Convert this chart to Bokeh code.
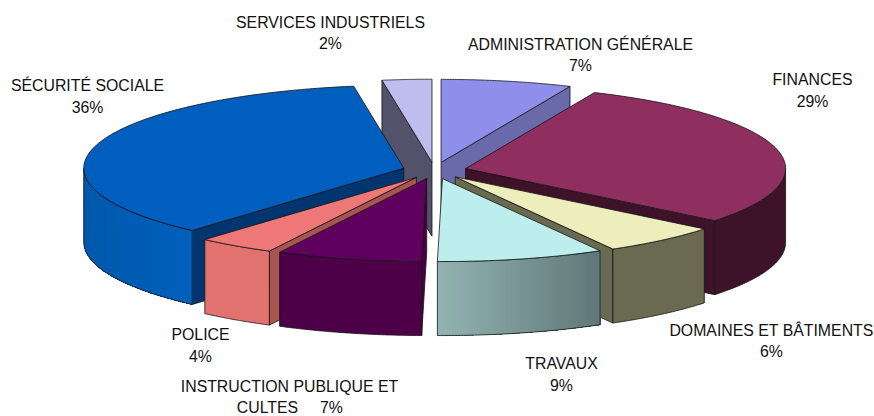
import numpy as np
from bokeh.plotting import figure
from bokeh.models import Range1d
from bokeh.core.properties import value
from bokeh.embed import file_html
from bokeh.resources import INLINE

# --- data (clockwise from 12 o'clock) ---
categories = ["ADMINISTRATION GÉNÉRALE", "FINANCES", "DOMAINES ET BÂTIMENTS", "TRAVAUX",
              "INSTRUCTION PUBLIQUE ET CULTES", "POLICE", "SÉCURITÉ SOCIALE", "SERVICES INDUSTRIELS"]
shares = [6.6, 29.2, 6.0, 8.45, 7.35, 3.9, 36.0, 2.5]
percent_labels = ["7%", "29%", "6%", "9%", "7%", "4%", "36%", "2%"]

# --- styles ---
top_colors = ["#8f8feb", "#8e2f5f", "#eeeebd", "#bdeeee", "#5f005f", "#ee7777", "#005fbe", "#bdbdee"]
face_colors = ["#6a6aaa", "#3e1228", "#6a6a50", "#5f7677", "#4a0046", "#a85552", "#003570", "#52526a"]
wall_left = ["#6a6aaa", "#3e1228", "#6a6a50", "#93b3b1", "#4d0048", "#e27270", "#0059ac", "#52526a"]
wall_right = ["#6a6aaa", "#3e1228", "#6a6a50", "#5f7677", "#4d0048", "#e27270", "#0060bc", "#52526a"]
paint_order = [7, 0, 6, 1, 5, 2, 4, 3]
EDGE = "#151515"
FONT = "Liberation Sans"
SIZE = "15.85px"

# --- geometry ---
CX, CY, RX, RY, DEPTH, EXPLODE = 434.0, 170.0, 320.0, 83.0, 74.0, 0.1


def pt(theta, ox, oy, drop=0.0, r=1.0):
    return ox + r * RX * np.sin(theta), oy - r * RY * np.cos(theta) + drop


def hexmix(a, b, t):
    ca = [int(a[i:i + 2], 16) for i in (1, 3, 5)]
    cb = [int(b[i:i + 2], 16) for i in (1, 3, 5)]
    return "#%02x%02x%02x" % tuple(int(round(x + (y - x) * t)) for x, y in zip(ca, cb))


p = figure(width=874, height=416, x_range=Range1d(0, 874), y_range=Range1d(416, 0),
           toolbar_location=None, output_backend="svg", min_border=0,
           outline_line_color=None, background_fill_color="white", border_fill_color="white")
p.axis.visible = False
p.grid.visible = False


def poly(xs, ys, fill):
    p.patch(list(xs), list(ys), fill_color=fill, fill_alpha=1, line_color=EDGE, line_width=0.8)


cum = np.concatenate([[0], np.cumsum(shares)]) / sum(shares) * 2 * np.pi
for i in paint_order:
    a0, a1 = cum[i], cum[i + 1]
    mid = (a0 + a1) / 2
    ox, oy = pt(mid, CX, CY, r=EXPLODE)
    # radial faces that look towards the viewer
    if np.sin(a1) > 0.001:
        x, y = pt(a1, ox, oy)
        poly([ox, x, x, ox], [oy, y, y + DEPTH, oy + DEPTH], face_colors[i])
    if np.sin(a0) < -0.001:
        x, y = pt(a0, ox, oy)
        poly([ox, x, x, ox], [oy, y, y + DEPTH, oy + DEPTH], face_colors[i])
    # outer wall
    w0, w1 = max(a0, np.pi / 2), min(a1, 3 * np.pi / 2)
    if w1 > w0:
        th = np.linspace(w0, w1, 60)
        xs, ys = pt(th, ox, oy)
        # walls shaded left to right: each band reaches to the far end so no seams show
        order = np.argsort(xs)
        xs, ys = xs[order], ys[order]
        if wall_left[i] != wall_right[i]:
            xl, xr = xs[0], xs[-1]
            for k in range(len(xs) - 1):
                t = (xs[k] - xl) / (xr - xl)
                p.patch(list(xs[k:]) + list(xs[k:][::-1]), list(ys[k:]) + list(ys[k:][::-1] + DEPTH),
                        fill_color=hexmix(wall_left[i], wall_right[i], t), line_color=None)
            p.patch(list(xs) + list(xs[::-1]), list(ys) + list(ys[::-1] + DEPTH),
                    fill_alpha=0, line_color=EDGE, line_width=0.8)
        else:
            poly(list(xs) + list(xs[::-1]), list(ys) + list(ys[::-1] + DEPTH), wall_left[i])
    # top
    th = np.linspace(a0, a1, 80)
    xs, ys = pt(th, ox, oy)
    poly([ox] + list(xs), [oy] + list(ys), top_colors[i])

# --- labels ---
label_lines = [
    ("SERVICES INDUSTRIELS", 330, 22), (percent_labels[7], 330, 43),
    ("ADMINISTRATION GÉNÉRALE", 580, 44), (percent_labels[0], 580, 65),
    ("FINANCES", 812, 79), (percent_labels[1], 812, 101),
    ("SÉCURITÉ SOCIALE", 87, 85), (percent_labels[6], 87, 107),
    ("DOMAINES ET BÂTIMENTS", 771, 330), (percent_labels[2], 771, 351),
    ("TRAVAUX", 561, 363), (percent_labels[3], 561, 385),
    ("POLICE", 200, 334), (percent_labels[5], 200, 356),
    ("INSTRUCTION PUBLIQUE ET", 289, 386), ("CULTES", 267, 407), (percent_labels[4], 331, 407),
]
p.text([l[1] for l in label_lines], [l[2] for l in label_lines], text=[l[0] for l in label_lines],
       text_font=value(FONT), text_font_size=value(SIZE), text_color="#111111",
       text_align="center", text_baseline="middle")

open("out.html", "w").write(file_html(p, INLINE))
